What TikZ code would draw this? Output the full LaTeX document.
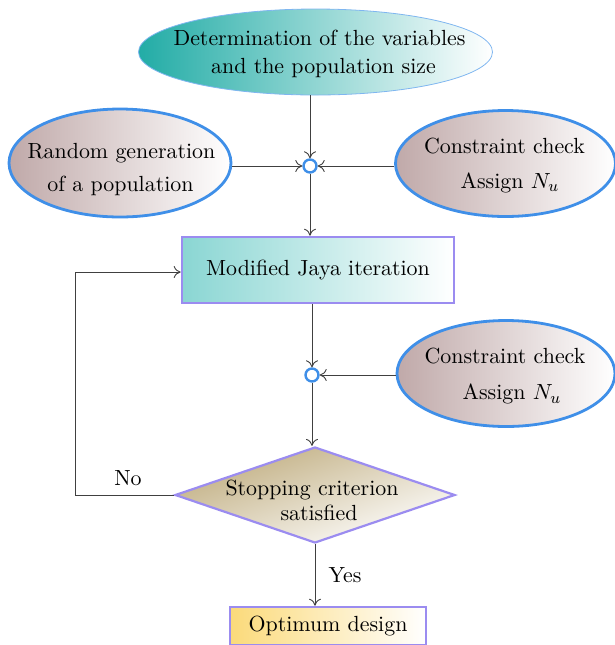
\documentclass[tikz,border=0pt]{standalone}
\usetikzlibrary{shapes.geometric,arrows.meta}
\definecolor{bblue}{HTML}{3F8FE8}
\definecolor{lblue}{HTML}{7FB6F0}
\definecolor{pborder}{HTML}{9B8CF0}
\definecolor{rosy}{HTML}{C0A9A9}
\definecolor{tealA}{HTML}{22ACA6}
\definecolor{tealB}{HTML}{8AD6D3}
\definecolor{khaki}{HTML}{BFAC7E}
\definecolor{yel}{HTML}{FBDA7A}
% one line of text centred at (dx, baseline dy below the node centre), taking no room
\newcommand{\tline}[3]{\rlap{\hspace{#1}\raisebox{-#2}[0pt][0pt]{\makebox[0pt]{#3}}}}
\tikzset{
  every node/.style={font=\fontsize{10.95}{14}\selectfont},
  ell/.style={ellipse, draw=bblue, line width=1.4pt, left color=rosy, right color=white, inner sep=0pt},
  topell/.style={ellipse, draw=lblue, line width=0.4pt, left color=tealA, right color=white, inner sep=0pt},
  pbox/.style={rectangle, draw=pborder, line width=1.3pt, inner sep=0pt, align=center},
  junc/.style={circle, draw=bblue, fill=white, line width=1.2pt, minimum size=6.5pt, inner sep=0pt},
  conn/.style={draw=black!75, line width=0.45pt, -{To[length=3.5pt,width=6pt]}},
  lbl/.style={inner sep=0pt}
}
\begin{document}
\begin{tikzpicture}[x=0.5pt,y=-0.5pt]
\useasboundingbox (0,0) rectangle (615,645);
\node[topell, minimum width=177pt, minimum height=43pt] (top) at (315.5,52)
  {\tline{2pt}{-3.5pt}{Determination of the variables}\tline{4pt}{10.7pt}{and the population size}};
\node[ell, minimum width=111pt, minimum height=54pt] (rand) at (120,163)
  {\tline{0.75pt}{-2.3pt}{Random generation}\tline{0.25pt}{14.3pt}{of a population}};
\node[ell, minimum width=110pt, minimum height=53pt] (cc1) at (505.5,163.5)
  {\tline{-0.5pt}{-5pt}{Constraint check}\tline{2.25pt}{12.5pt}{Assign $N_u$}};
\node[junc] (j1) at (310,166) {};
\node[pbox, minimum width=136pt, minimum height=33pt, left color=tealB, right color=white] (jaya) at (318,270) {Modified Jaya iteration};
\node[junc] (j2) at (312,375) {};
\node[ell, minimum width=109pt, minimum height=53pt] (cc2) at (506,373.5)
  {\tline{-0.5pt}{-5.1pt}{Constraint check}\tline{3pt}{13.2pt}{Assign $N_u$}};
\node[diamond, draw=pborder, line width=1.1pt, minimum width=140pt, minimum height=48pt, inner sep=0pt,
      top color=khaki, bottom color=white, shading angle=20] (stop) at (315,495)
  {\tline{-1.5pt}{0pt}{Stopping criterion}\tline{2pt}{12.5pt}{satisfied}};
\node[pbox, minimum width=98pt, minimum height=19pt, left color=yel, right color=white] (opt) at (328,626) {Optimum design};
\coordinate (c1) at (75,495);
\coordinate (c2) at (75,272);
\node[lbl] (no) at (128,478) {No};
\node[lbl] (yes) at (345,575) {Yes};

\draw[conn] (top.south -| j1) -- (j1);
\draw[conn] (j1 -| rand.east) -- (j1);
\draw[conn] (j1 -| cc1.west) -- (j1);
\draw[conn] (j1) -- (jaya.north -| j1);
\draw[conn] (jaya.south -| j2) -- (j2);
\draw[conn] (j2 -| cc2.west) -- (j2);
\draw[conn] (j2) -- (stop.north -| j2);
\draw[conn] (stop.west) -- (c1) -- (c2) -- (c2 -| jaya.west);
\draw[conn] (stop.south) -- (stop.south |- opt.north);
\end{tikzpicture}
\end{document}
